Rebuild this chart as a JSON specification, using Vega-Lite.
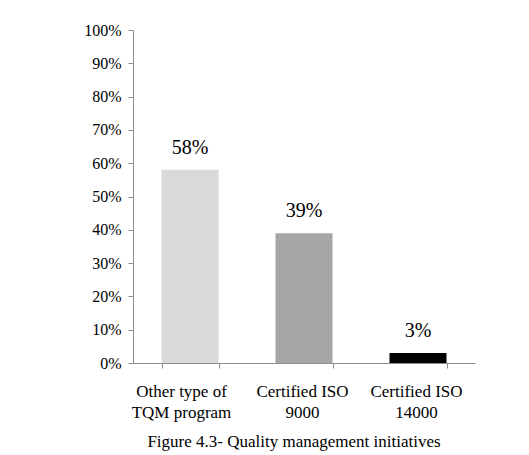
{
  "$schema": "https://vega.github.io/schema/vega-lite/v6.json",
  "width": 342,
  "height": 333,
  "autosize": {"type": "none"},
  "padding": {"left": 133, "top": 30, "right": 54, "bottom": 92},
  "background": "white",
  "config": {
    "view": {"stroke": null},
    "font": "Liberation Serif",
    "text": {"font": "Liberation Serif"}
  },
  "title": {
    "text": "Figure 4.3- Quality management initiatives",
    "orient": "bottom",
    "anchor": "middle",
    "font": "Liberation Serif",
    "fontSize": 17,
    "fontWeight": "normal",
    "color": "#000000",
    "offset": 14,
    "dx": -10
  },
  "data": {
    "values": [
      {"initiative": "Other type of TQM program", "share": 0.58, "shade": "#d9d9d9"},
      {"initiative": "Certified ISO 9000", "share": 0.39, "shade": "#a6a6a6"},
      {"initiative": "Certified ISO 14000", "share": 0.03, "shade": "#000000"}
    ]
  },
  "encoding": {
    "x": {
      "field": "initiative",
      "type": "nominal",
      "sort": null,
      "scale": {"paddingInner": 0.5, "paddingOuter": 0.25},
      "axis": {
        "title": null,
        "labelAngle": 0,
        "labelExpr": "isString(datum.value) ? [substring(datum.value, 0, 13), substring(datum.value, 14)] : ''",
        "labelFont": "Liberation Serif",
        "labelFontSize": 17,
        "labelColor": "#000000",
        "labelLineHeight": 21,
        "labelPadding": 15,
        "labelBaseline": "top",
        "labelOffset": {"condition": {"test": "datum.value == 'Other type of TQM program'", "value": -9}, "value": -2},
        "tickBand": "extent",
        "tickSize": 5,
        "tickColor": "#8c8c8c",
        "domainColor": "#8c8c8c"
      }
    },
    "y": {
      "field": "share",
      "type": "quantitative",
      "scale": {"domain": [0, 1]},
      "axis": {
        "title": null,
        "values": [0, 0.1, 0.2, 0.3, 0.4, 0.5, 0.6, 0.7, 0.8, 0.9, 1],
        "format": ".0%",
        "grid": false,
        "labelFont": "Liberation Serif",
        "labelFontSize": 16,
        "labelColor": "#000000",
        "labelPadding": 7,
        "tickSize": 5,
        "tickColor": "#8c8c8c",
        "domainColor": "#8c8c8c"
      }
    }
  },
  "layer": [
    {
      "mark": {"type": "bar"},
      "encoding": {
        "color": {"field": "shade", "type": "nominal", "scale": null, "legend": null}
      }
    },
    {
      "mark": {"type": "text", "baseline": "alphabetic", "dy": -16, "fontSize": 20, "font": "Liberation Serif", "color": "#000000"},
      "encoding": {
        "text": {"field": "share", "type": "quantitative", "format": ".0%"}
      }
    }
  ]
}
